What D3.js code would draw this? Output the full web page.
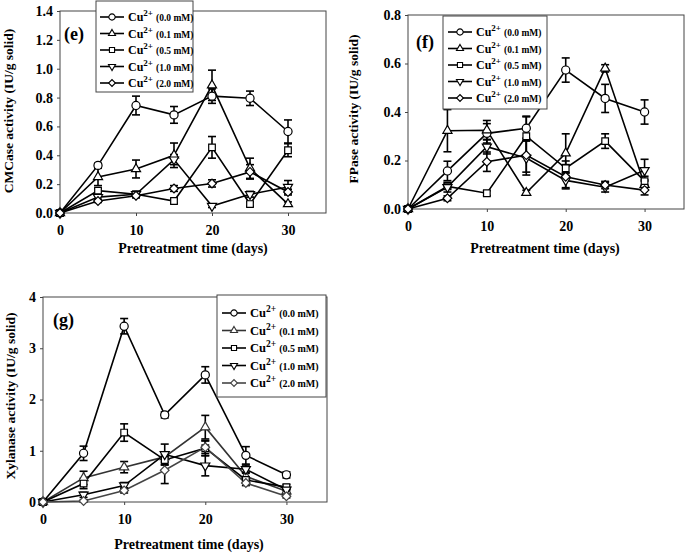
<!DOCTYPE html>
<html>
<head>
<meta charset="utf-8">
<script src="https://cdn.jsdelivr.net/npm/d3@7"></script>
<style>
  body { margin: 0; background: #fff; }
  svg { display: block; }
  text { font-family: "Liberation Serif", "Times New Roman", serif; font-weight: bold; fill: #000; }
</style>
</head>
<body>
<script>
// pretreatment days (x values)
var days = [0, 5, 10, 15, 20, 25, 30];
var xTicks = [0, 10, 20, 30];
var concLabels = ["(0.0 mM)", "(0.1 mM)", "(0.5 mM)", "(1.0 mM)", "(2.0 mM)"];

// (e) CMCase activity
var cmc00 = [0, 0.33, 0.745, 0.68, 0.81, 0.795, 0.565];
var cmc01 = [0, 0.25, 0.305, 0.40, 0.885, 0.31, 0.062];
var cmc05 = [0, 0.155, 0.13, 0.083, 0.455, 0.062, 0.435];
var cmc10 = [0, 0.11, 0.13, 0.37, 0.048, 0.13, 0.18];
var cmc20 = [0, 0.083, 0.12, 0.17, 0.205, 0.285, 0.145];
var cmcErr00 = [0, 0.015, 0.065, 0.058, 0.05, 0.05, 0.08];
var cmcErr01 = [0, 0.06, 0.062, 0.085, 0.105, 0.07, 0.015];
var cmcErr05 = [0, 0.015, 0.015, 0.015, 0.075, 0.015, 0.045];
var cmcErr10 = [0, 0.015, 0.015, 0.035, 0.01, 0.02, 0.045];
var cmcErr20 = [0, 0.01, 0.015, 0.02, 0.025, 0.05, 0.02];
var cmcTicks = [0, 0.2, 0.4, 0.6, 0.8, 1.0, 1.2, 1.4];

// (f) FPase activity
var fp00 = [0, 0.157, 0.312, 0.333, 0.573, 0.456, 0.40];
var fp01 = [0, 0.323, 0.325, 0.067, 0.23, 0.58, 0.10];
var fp05 = [0, 0.093, 0.065, 0.30, 0.168, 0.28, 0.115];
var fp10 = [0, 0.09, 0.257, 0.21, 0.118, 0.09, 0.16];
var fp20 = [0, 0.044, 0.195, 0.222, 0.133, 0.099, 0.078];
var fpErr00 = [0, 0.04, 0.04, 0.05, 0.05, 0.058, 0.05];
var fpErr01 = [0, 0.087, 0.04, 0.01, 0.08, 0.015, 0.02];
var fpErr05 = [0, 0.01, 0.01, 0.08, 0.03, 0.03, 0.02];
var fpErr10 = [0, 0.02, 0.03, 0.07, 0.03, 0.02, 0.045];
var fpErr20 = [0, 0.01, 0.04, 0.07, 0.05, 0.015, 0.02];
var fpTicks = [0, 0.2, 0.4, 0.6, 0.8];

// (g) Xylanase activity
var xyl00 = [0, 0.95, 3.43, 1.70, 2.48, 0.91, 0.53];
var xyl01 = [0, 0.47, 0.68, 0.88, 1.46, 0.50, 0.21];
var xyl05 = [0, 0.36, 1.355, 0.82, 1.05, 0.43, 0.29];
var xyl10 = [0, 0.14, 0.32, 0.93, 0.71, 0.64, 0.24];
var xyl20 = [0, 0.02, 0.226, 0.62, 1.07, 0.37, 0.11];
var xylErr00 = [0, 0.14, 0.15, 0.06, 0.16, 0.17, 0.06];
var xylErr01 = [0, 0.13, 0.11, 0.1, 0.23, 0.08, 0.05];
var xylErr05 = [0, 0.1, 0.17, 0.1, 0.15, 0.06, 0.05];
var xylErr10 = [0, 0.05, 0.06, 0.2, 0.2, 0.08, 0.05];
var xylErr20 = [0, 0.02, 0.05, 0.26, 0.12, 0.05, 0.03];
var xylTicks = [0, 1, 2, 3, 4];

var symbols = ["circle", "triUp", "square", "triDown", "diamond"];

var svg = d3.select("body").append("svg")
    .attr("width", 685)
    .attr("height", 554);

//marker shapes, k scales the area (legend uses smaller ones)
function markerPath(kind, k) {
  k = k || 1;
  if (kind == "circle") return d3.symbol().type(d3.symbolCircle).size(52 * k)();
  if (kind == "triUp" || kind == "triDown") return d3.symbol().type(d3.symbolTriangle).size(36 * k)();
  if (kind == "square") return d3.symbol().type(d3.symbolSquare).size(44 * k)();
  return d3.symbol().type(d3.symbolSquare).size(38 * k)();
}
function markerRot(kind) {
  if (kind == "triDown") return " rotate(180)";
  if (kind == "diamond") return " rotate(45)";
  return "";
}

function drawPanel(p) {
  var x = d3.scaleLinear().domain([0, 35]).range([p.left, p.right]);
  var y = d3.scaleLinear().domain([0, p.yMax]).range([p.bottom, p.top]);
  var g = svg.append("g");

  // frame
  g.append("rect")
    .attr("x", p.left).attr("y", p.top)
    .attr("width", p.right - p.left).attr("height", p.bottom - p.top)
    .attr("fill", "none").attr("stroke", "#444").attr("stroke-width", 1);

  // axes
  var xAxis = d3.axisBottom(x).tickValues(xTicks).tickSize(3).tickFormat(d3.format("d"));
  var yAxis = d3.axisLeft(y).tickValues(p.ticks).tickSize(3).tickFormat(d3.format(p.fmt));
  var gx = g.append("g").attr("transform", "translate(0," + p.bottom + ")").call(xAxis);
  var gy = g.append("g").attr("transform", "translate(" + p.left + ",0)").call(yAxis);
  [gx, gy].forEach(function(a) {
    a.select(".domain").remove();
    a.selectAll("line").attr("stroke", "#444");
    a.selectAll("text").style("font-size", "14px");
  });
  gx.selectAll("text").attr("dy", "0").attr("y", 22);
  gy.selectAll("text").attr("x", -7);

  // axis titles
  g.append("text")
    .attr("x", p.xTitleX).attr("y", p.xTitleY)
    .attr("text-anchor", "middle").style("font-size", "14px")
    .text("Pretreatment time (days)");
  g.append("text")
    .attr("transform", "translate(" + p.yTitleX + "," + p.yTitleY + ") rotate(-90)")
    .attr("text-anchor", "middle").style("font-size", "13.5px")
    .text(p.yTitle);

  // panel letter
  g.append("text")
    .attr("x", p.letterX).attr("y", p.letterY)
    .style("font-size", "18px").text(p.letter);

  // lines
  var line = d3.line().x(function(d, i) { return x(days[i]); }).y(function(d) { return y(d); });
  p.series.forEach(function(s, k) {
    g.append("path").datum(s)
      .attr("d", line).attr("fill", "none")
      .attr("stroke", p.colors[k]).attr("stroke-width", 1.6);
  });

  // error bars and markers
  p.series.forEach(function(s, k) {
    var errs = p.errors[k];
    var eb = g.append("g").attr("stroke", "#000").attr("stroke-width", 1.6);
    s.forEach(function(v, i) {
      if (!errs[i]) return;
      var cx = x(days[i]);
      eb.append("line").attr("x1", cx).attr("x2", cx)
        .attr("y1", y(v - errs[i])).attr("y2", y(v + errs[i]));
      [v - errs[i], v + errs[i]].forEach(function(e) {
        eb.append("line").attr("x1", cx - 4).attr("x2", cx + 4)
          .attr("y1", y(e)).attr("y2", y(e));
      });
    });
  });
  p.series.forEach(function(s, k) {
    g.selectAll(null).data(s).enter().append("path")
      .attr("d", markerPath(symbols[k]))
      .attr("transform", function(d, i) { return "translate(" + x(days[i]) + "," + y(d) + ")" + markerRot(symbols[k]); })
      .attr("fill", "#fff").attr("stroke", p.colors[k]).attr("stroke-width", 1.2);
  });

  // legend
  var L = p.legend;
  g.append("rect")
    .attr("x", L.x0).attr("y", L.y0)
    .attr("width", L.x1 - L.x0).attr("height", L.y1 - L.y0)
    .attr("fill", "#fff").attr("stroke", "#444").attr("stroke-width", 1);
  concLabels.forEach(function(lab, k) {
    var ry = L.rowY + k * L.step;
    g.append("line")
      .attr("x1", L.lineX).attr("x2", L.lineX + 24)
      .attr("y1", ry).attr("y2", ry)
      .attr("stroke", p.colors[k]).attr("stroke-width", 1.6);
    g.append("path")
      .attr("d", markerPath(symbols[k], 0.6))
      .attr("transform", "translate(" + (L.lineX + 12) + "," + ry + ")" + markerRot(symbols[k]))
      .attr("fill", "#fff").attr("stroke", p.colors[k]).attr("stroke-width", 1.1);
    var t = g.append("text").attr("x", L.lineX + 28).attr("y", ry + 4)
      .style("font-size", L.font + "px");
    t.append("tspan").text("Cu");
    t.append("tspan").attr("dy", -5).style("font-size", (L.font - 3) + "px").text("2+");
    t.append("tspan").attr("dy", 5).attr("dx", 3).style("font-size", (L.font - 2.5) + "px").text(lab);
  });
}

drawPanel({
  left: 60, right: 326, top: 11, bottom: 213, yMax: 1.4, ticks: cmcTicks, fmt: ".1f",
  series: [cmc00, cmc01, cmc05, cmc10, cmc20],
  errors: [cmcErr00, cmcErr01, cmcErr05, cmcErr10, cmcErr20],
  colors: ["#000", "#000", "#000", "#000", "#000"],
  yTitle: "CMCase activity (IU/g solid)", yTitleX: 13, yTitleY: 111,
  xTitleX: 193, xTitleY: 253,
  letter: "(e)", letterX: 64, letterY: 40,
  legend: { x0: 96, y0: 1, x1: 193, y1: 92, rowY: 17, step: 16.5, lineX: 100, font: 12 }
});

drawPanel({
  left: 408, right: 684, top: 15, bottom: 209, yMax: 0.8, ticks: fpTicks, fmt: ".1f",
  series: [fp00, fp01, fp05, fp10, fp20],
  errors: [fpErr00, fpErr01, fpErr05, fpErr10, fpErr20],
  colors: ["#000", "#000", "#000", "#000", "#000"],
  yTitle: "FPase activity (IU/g solid)", yTitleX: 358, yTitleY: 109,
  xTitleX: 545, xTitleY: 253,
  letter: "(f)", letterX: 416, letterY: 48,
  legend: { x0: 443, y0: 16, x1: 547, y1: 109, rowY: 32, step: 16.5, lineX: 448, font: 12 }
});

drawPanel({
  left: 43, right: 327, top: 297, bottom: 502, yMax: 4, ticks: xylTicks, fmt: "d",
  series: [xyl00, xyl01, xyl05, xyl10, xyl20],
  errors: [xylErr00, xylErr01, xylErr05, xylErr10, xylErr20],
  colors: ["#000", "#333", "#000", "#000", "#444"],
  yTitle: "Xylanase activity (IU/g solid)", yTitleX: 15, yTitleY: 396,
  xTitleX: 189, xTitleY: 549,
  letter: "(g)", letterX: 53, letterY: 326,
  legend: { x0: 217, y0: 295, x1: 326, y1: 397, rowY: 313, step: 17.5, lineX: 222, font: 12.5 }
});
</script>
</body>
</html>
